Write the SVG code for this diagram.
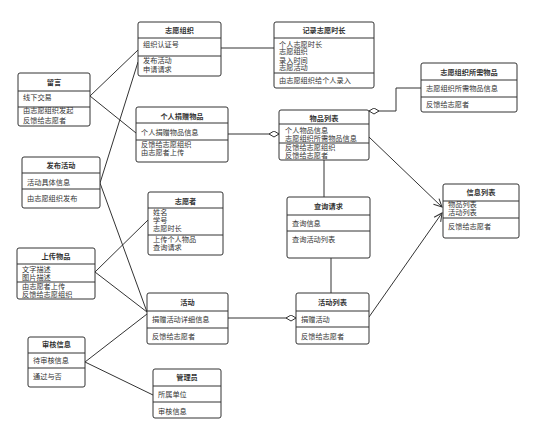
<svg xmlns="http://www.w3.org/2000/svg" width="554" height="445" viewBox="0 0 554 445">
<defs>
<style>
.box{fill:#fff;stroke:#333;stroke-width:1}
.div{stroke:#333;stroke-width:1}
.t{font-family:"Noto Sans CJK SC","Noto Sans",sans-serif;font-size:7.2px;fill:#333}
.h{font-weight:bold;text-anchor:middle}
.c{fill:none;stroke:#333;stroke-width:1}
</style>
<marker id="dia" markerWidth="11" markerHeight="7" refX="10.5" refY="3.5" orient="auto" markerUnits="userSpaceOnUse">
<path d="M0.5,3.5 L5.5,0.5 L10.5,3.5 L5.5,6.5 Z" fill="#fff" stroke="#333" stroke-width="1"/>
</marker>
<marker id="arr" markerWidth="10" markerHeight="10" refX="9" refY="5" orient="auto" markerUnits="userSpaceOnUse">
<path d="M1,1 L9,5 L1,9" fill="none" stroke="#333" stroke-width="1"/>
</marker>
</defs>
<rect width="554" height="445" fill="#fff"/>

<g id="connectors">
<line class="c" x1="221" y1="48" x2="274" y2="48"/>
<line class="c" x1="90" y1="96" x2="138" y2="50"/>
<line class="c" x1="90" y1="96" x2="136" y2="133"/>
<line class="c" x1="100" y1="183" x2="138" y2="62"/>
<line class="c" x1="100" y1="183" x2="147" y2="312"/>
<line class="c" x1="228" y1="134" x2="279" y2="134" marker-end="url(#dia)"/>
<polyline class="c" points="421,88 396,88 396,111 369,111" marker-end="url(#dia)"/>
<line class="c" x1="369" y1="137" x2="442" y2="207" marker-end="url(#arr)"/>
<line class="c" x1="369" y1="317" x2="442" y2="213" marker-end="url(#arr)"/>
<line class="c" x1="324" y1="197" x2="324" y2="160"/>
<line class="c" x1="331" y1="258" x2="331" y2="293"/>
<line class="c" x1="228" y1="318" x2="296" y2="318" marker-end="url(#dia)"/>
<line class="c" x1="95" y1="272" x2="148" y2="220"/>
<line class="c" x1="95" y1="272" x2="147" y2="312"/>
<line class="c" x1="85" y1="362" x2="147" y2="314"/>
<line class="c" x1="85" y1="362" x2="153" y2="395"/>
</g>

<g id="liuyan">
<rect class="box" x="18" y="73" width="72" height="53" rx="2"/>
<line class="div" x1="18" y1="91" x2="90" y2="91"/>
<line class="div" x1="18" y1="107" x2="90" y2="107"/>
<text class="t h" x="54" y="84.5">留言</text>
<text class="t" x="23" y="99.5">线下交易</text>
<text class="t" x="23" y="112.5">由志愿组织发起</text>
<text class="t" x="23" y="122.5">反馈给志愿者</text>
</g>

<g id="zhiyuanzuzhi">
<rect class="box" x="138" y="22" width="83" height="54" rx="2"/>
<line class="div" x1="138" y1="38" x2="221" y2="38"/>
<line class="div" x1="138" y1="56" x2="221" y2="56"/>
<text class="t h" x="179.5" y="33.3">志愿组织</text>
<text class="t" x="143" y="46.5">组织认证号</text>
<text class="t" x="143" y="62.5">发布活动</text>
<text class="t" x="143" y="71.8">申请请求</text>
</g>

<g id="jilu">
<rect class="box" x="274" y="22" width="100" height="66" rx="2"/>
<line class="div" x1="274" y1="38" x2="374" y2="38"/>
<line class="div" x1="274" y1="73" x2="374" y2="73"/>
<text class="t h" x="324" y="32.8">记录志愿时长</text>
<text class="t" x="279" y="46.8">个人志愿时长</text>
<text class="t" x="279" y="54.2">志愿组织</text>
<text class="t" x="279" y="62.5">录入时间</text>
<text class="t" x="279" y="70.2">志愿活动</text>
<text class="t" x="279" y="83.2">由志愿组织给个人录入</text>
</g>

<g id="suoxu">
<rect class="box" x="421" y="63" width="96" height="49" rx="2"/>
<line class="div" x1="421" y1="80" x2="517" y2="80"/>
<line class="div" x1="421" y1="97" x2="517" y2="97"/>
<text class="t h" x="469" y="74.8">志愿组织所需物品</text>
<text class="t" x="426" y="90.8">志愿组织所需物品信息</text>
<text class="t" x="426" y="106.8">反馈给志愿者</text>
</g>

<g id="juanzeng">
<rect class="box" x="136" y="107" width="92" height="55" rx="2"/>
<line class="div" x1="136" y1="123" x2="228" y2="123"/>
<line class="div" x1="136" y1="140" x2="228" y2="140"/>
<text class="t h" x="182" y="118.5">个人捐赠物品</text>
<text class="t" x="141" y="135">个人捐赠物品信息</text>
<text class="t" x="141" y="146.8">反馈给志愿组织</text>
<text class="t" x="141" y="155.2">由志愿者上传</text>
</g>

<g id="wupinliebiao">
<rect class="box" x="279" y="110" width="90" height="50" rx="2"/>
<line class="div" x1="279" y1="124" x2="369" y2="124"/>
<line class="div" x1="279" y1="143" x2="369" y2="143"/>
<text class="t h" x="324" y="120.8">物品列表</text>
<text class="t" x="285" y="132.5">个人物品信息</text>
<text class="t" x="285" y="140.5">志愿组织所需物品信息</text>
<text class="t" x="285" y="150.2">反馈给志愿组织</text>
<text class="t" x="285" y="158">反馈给志愿者</text>
</g>

<g id="fabu">
<rect class="box" x="22" y="157" width="78" height="51" rx="2"/>
<line class="div" x1="22" y1="173" x2="100" y2="173"/>
<line class="div" x1="22" y1="189" x2="100" y2="189"/>
<text class="t h" x="61" y="167.5">发布活动</text>
<text class="t" x="27" y="184.5">活动具体信息</text>
<text class="t" x="27" y="200.8">由志愿组织发布</text>
</g>

<g id="zhiyuanzhe">
<rect class="box" x="148" y="192" width="75" height="63" rx="2"/>
<line class="div" x1="148" y1="208" x2="223" y2="208"/>
<line class="div" x1="148" y1="235" x2="223" y2="235"/>
<text class="t h" x="185.5" y="203.5">志愿者</text>
<text class="t" x="153" y="215">姓名</text>
<text class="t" x="153" y="223">学号</text>
<text class="t" x="153" y="231">志愿时长</text>
<text class="t" x="153" y="241.5">上传个人物品</text>
<text class="t" x="153" y="249.5">查询请求</text>
</g>

<g id="chaxun">
<rect class="box" x="287" y="197" width="83" height="61" rx="2"/>
<line class="div" x1="287" y1="215" x2="370" y2="215"/>
<line class="div" x1="287" y1="231" x2="370" y2="231"/>
<text class="t h" x="328.5" y="208.5">查询请求</text>
<text class="t" x="292" y="225.8">查询信息</text>
<text class="t" x="292" y="241.8">查询活动列表</text>
</g>

<g id="xinxi">
<rect class="box" x="443" y="184" width="76" height="54" rx="2"/>
<line class="div" x1="443" y1="201" x2="519" y2="201"/>
<line class="div" x1="443" y1="218" x2="519" y2="218"/>
<text class="t h" x="481" y="194.8">信息列表</text>
<text class="t" x="448" y="207">物品列表</text>
<text class="t" x="448" y="215.2">活动列表</text>
<text class="t" x="448" y="229.2">反馈给志愿者</text>
</g>

<g id="shangchuan">
<rect class="box" x="17" y="248" width="78" height="51" rx="2"/>
<line class="div" x1="17" y1="264" x2="95" y2="264"/>
<line class="div" x1="17" y1="282" x2="95" y2="282"/>
<text class="t h" x="56" y="258.5">上传物品</text>
<text class="t" x="22" y="271.8">文字描述</text>
<text class="t" x="22" y="280">图片描述</text>
<text class="t" x="22" y="289">由志愿者上传</text>
<text class="t" x="22" y="296.8">反馈给志愿组织</text>
</g>

<g id="shenhe">
<rect class="box" x="28" y="337" width="57" height="50" rx="2"/>
<line class="div" x1="28" y1="353" x2="85" y2="353"/>
<line class="div" x1="28" y1="368" x2="85" y2="368"/>
<text class="t h" x="56.5" y="346.5">审核信息</text>
<text class="t" x="33" y="363.2">待审核信息</text>
<text class="t" x="33" y="379.2">通过与否</text>
</g>

<g id="huodong">
<rect class="box" x="147" y="293" width="81" height="51" rx="2"/>
<line class="div" x1="147" y1="311" x2="228" y2="311"/>
<line class="div" x1="147" y1="328" x2="228" y2="328"/>
<text class="t h" x="187.5" y="304.8">活动</text>
<text class="t" x="152" y="321.5">捐赠活动详细信息</text>
<text class="t" x="152" y="338.5">反馈给志愿者</text>
</g>

<g id="huodongliebiao">
<rect class="box" x="296" y="293" width="73" height="51" rx="2"/>
<line class="div" x1="296" y1="311" x2="369" y2="311"/>
<line class="div" x1="296" y1="327" x2="369" y2="327"/>
<text class="t h" x="332.5" y="304.8">活动列表</text>
<text class="t" x="301" y="321.5">捐赠活动</text>
<text class="t" x="301" y="338.5">反馈给志愿者</text>
</g>

<g id="guanliyuan">
<rect class="box" x="153" y="369" width="68" height="49" rx="2"/>
<line class="div" x1="153" y1="386" x2="221" y2="386"/>
<line class="div" x1="153" y1="402" x2="221" y2="402"/>
<text class="t h" x="187" y="380.2">管理员</text>
<text class="t" x="158" y="396.8">所属单位</text>
<text class="t" x="158" y="414.2">审核信息</text>
</g>
</svg>
